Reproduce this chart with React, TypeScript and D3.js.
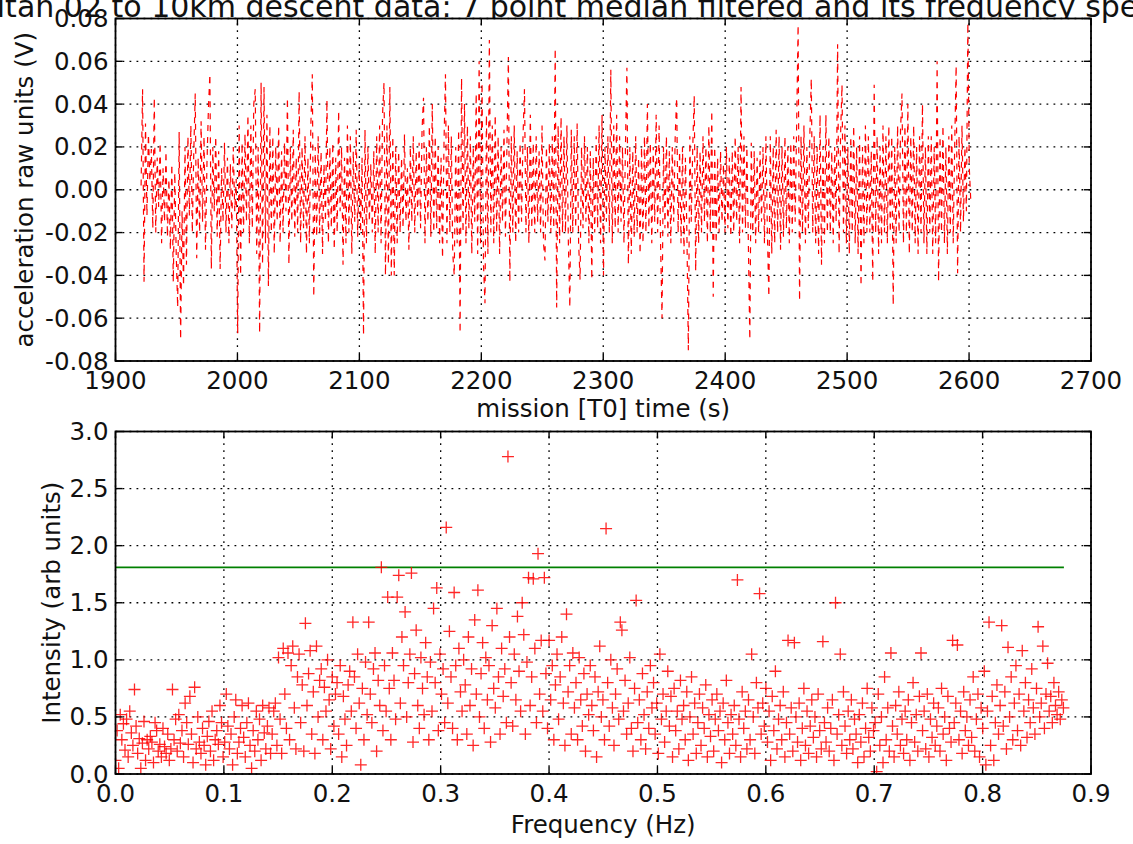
import React from 'react';
import * as d3 from 'd3';

const titleText = 'Titan 02 to 10km descent data: 7 point median filtered and its frequency spectrum';
const topXLabel = 'mission [T0] time (s)';
const topYLabel = 'acceleration raw units (V)';
const bottomXLabel = 'Frequency (Hz)';
const bottomYLabel = 'Intensity (arb units)';

const accelStartTime = 1921;
const accelTimeStep = 1.2;
const accelValues = [
  .002,.047,-.043,.031,-.012,.026,.004,.019,-.018,.043,
  -.02,.015,-.008,.022,-.025,.01,-.015,.018,-.022,.005,
  -.028,.012,-.043,.008,-.03,-.055,.027,-.07,-.01,-.045,
  .02,-.035,.025,-.012,.03,-.02,.018,.045,-.032,.015,
  -.02,.032,-.015,.025,-.028,.012,.038,.054,-.037,.02,
  -.01,.025,-.022,.018,-.037,.01,-.015,.022,-.02,.015,
  -.025,.012,-.018,.02,-.01,.005,-.067,.03,-.04,.022,
  -.02,.026,-.015,.035,-.025,.03,-.018,.04,.047,-.03,
  .02,-.067,.05,-.035,.048,-.025,.035,-.045,.03,-.02,
  .025,-.03,.02,-.015,.03,-.025,.018,-.02,.022,-.01,
  .043,-.035,.02,-.015,.028,-.022,.015,-.02,.046,-.025,
  .02,-.018,.025,-.03,.015,-.025,.03,.054,-.05,.02,
  -.022,.025,-.02,.018,-.03,.012,-.015,.042,-.025,.02,
  -.018,.022,-.028,.015,-.02,.037,-.01,.02,-.035,.015,
  -.025,.03,-.02,.025,-.03,.018,-.015,.028,-.022,.012,
  -.02,.015,-.068,.028,-.025,.02,-.015,.012,-.02,.018,
  -.03,.025,-.02,.03,-.025,.035,.05,-.04,.03,-.035,
  .048,-.04,.025,-.04,.02,-.025,.018,-.02,.015,-.018,
  .026,-.015,.01,-.028,.02,-.015,.025,-.02,.018,-.012,
  .022,-.018,.028,.043,-.025,.02,-.015,.03,-.022,.04,
  -.02,.025,-.018,.02,-.025,.015,-.032,.022,.054,-.025,
  .03,-.02,.025,-.03,-.04,.02,-.025,.028,-.067,.052,
  -.02,.04,-.025,.03,-.018,.025,-.03,.02,-.015,.045,
  -.03,.06,-.025,.05,-.035,-.053,.035,-.03,.07,-.02,
  .03,-.025,.035,-.02,.025,-.03,.02,-.015,.028,-.022,
  .02,.062,-.043,.025,-.02,.03,-.025,.018,-.02,.022,
  -.015,.025,.047,-.02,.02,-.025,.035,-.018,.022,-.02,
  .025,-.015,.018,-.02,.03,-.025,-.033,.02,-.015,.022,
  -.02,.025,-.018,.066,-.055,.03,-.025,.034,-.02,.025,
  -.02,.03,-.025,-.055,.028,-.02,.025,-.018,.031,-.025,
  -.042,.02,-.018,.025,-.015,.02,-.025,.018,-.042,.015,
  -.02,.025,-.018,.03,-.025,.035,-.04,.02,-.015,.025,
  -.02,.056,-.025,.03,-.018,.035,-.02,.025,-.015,.02,
  -.025,.02,.057,-.035,.02,-.03,.018,-.022,.025,-.02,
  .015,-.03,.02,-.025,.025,-.02,.04,-.018,.022,-.025,
  .02,-.015,.035,-.02,.03,-.025,-.06,.02,-.018,.025,
  -.022,.018,-.025,.02,-.015,.025,.043,-.02,.018,-.025,
  .02,-.03,.015,-.02,-.075,.025,-.015,.02,.044,-.038,
  .02,-.025,.018,-.02,.025,-.015,.02,-.025,.03,-.02,
  .037,-.05,.02,-.025,.015,-.02,.018,-.015,.012,-.02,
  .02,-.018,.015,-.022,.018,-.02,.025,-.015,.02,-.025,
  .048,-.02,.025,-.018,.02,-.025,-.07,.022,-.02,.018,
  -.025,.015,-.02,.018,-.015,.02,-.025,.025,-.02,-.05,
  .025,-.03,.02,-.025,.028,-.02,.025,-.028,.02,-.022,
  .025,-.018,.02,-.025,.022,-.02,.025,-.015,.03,.077,
  -.052,.025,-.02,.03,-.025,.02,-.018,.025,.052,-.02,
  .025,-.025,.02,-.03,.035,-.035,.02,-.025,.035,-.02,
  .025,-.02,.018,-.025,.02,-.015,.068,-.03,.025,.049,
  -.02,.03,-.025,.02,-.03,.025,-.02,.03,-.025,.02,
  -.03,.025,-.045,.02,-.025,.03,-.02,.025,-.02,.018,
  -.043,.049,-.02,.025,-.03,.02,-.025,.03,-.02,.025,
  -.025,.03,-.02,.025,-.054,.02,-.025,.03,-.02,.028,
  .045,-.025,.03,-.02,.04,-.03,.025,-.02,.03,-.025,
  .02,-.03,.025,-.02,.04,-.025,.02,-.03,.025,-.02,
  .025,-.03,.02,-.025,.06,-.043,.025,-.02,.03,-.025,
  .02,-.03,.025,-.02,.03,-.025,.02,.058,-.039,.025,
  -.02,.03,-.015,.02,-.01,.078,.01,-.005
];
const timeTicks = [1900, 2000, 2100, 2200, 2300, 2400, 2500, 2600, 2700];
const accelTicks = [-0.08, -0.06, -0.04, -0.02, 0, 0.02, 0.04, 0.06, 0.08];

const freqStep = 0.00146;
const intensityValues = [
  .12,.38,.05,.52,.30,.44,.21,.48,.15,.55,
  .36,.25,.74,.42,.18,.31,.05,.27,.46,.12,
  .30,.22,.33,.28,.10,.45,.38,.20,.26,.15,
  .40,.24,.18,.35,.12,.22,.74,.30,.48,.20,
  .52,.27,.38,.15,.62,.45,.26,.68,.35,.10,
  .76,.22,.50,.28,.18,.40,.25,.08,.33,.46,
  .20,.55,.12,.30,.38,.26,.60,.45,.15,.28,
  .70,.42,.22,.35,.08,.50,.65,.18,.28,.40,
  .60,.32,.15,.45,.62,.25,.05,.38,.20,.55,
  .30,.48,.12,.60,.36,.22,.42,.58,.18,.35,
  .55,.62,.25,1.02,.48,.18,1.10,.70,.40,1.06,
  .30,.95,1.12,.58,.22,.85,1.05,.45,.78,.20,
  1.32,.60,.88,1.08,.35,.72,.18,1.12,.50,.82,
  .92,.30,.76,.55,1.00,.65,.22,.85,.42,.70,
  .80,.35,.95,.15,.68,.48,.25,.78,.90,.55,
  1.33,.85,.40,1.05,.62,.08,.75,.30,.98,.52,
  1.33,.70,.45,.92,1.06,.20,.82,.60,1.81,.38,
  .95,.55,1.55,.75,.30,1.06,.82,.48,1.55,1.74,
  .62,1.20,.95,1.42,.50,.80,1.05,1.76,.28,.88,
  1.26,.60,.40,1.02,.75,.52,1.15,.85,.30,.98,
  .55,1.45,.80,1.63,.38,1.05,.70,.92,.45,2.16,
  .62,1.25,.85,.40,1.59,.95,.30,1.10,.72,.55,
  1.00,.78,.35,1.20,.60,.92,.25,1.35,.70,1.61,
  .50,.88,1.15,.40,1.02,.65,.95,.28,1.30,.75,
  .58,1.45,.85,.35,1.10,.68,.92,.45,2.78,1.20,
  .80,.42,1.05,.65,1.38,.90,.55,1.50,1.22,.35,
  .98,1.72,.60,.85,1.71,1.10,.45,1.93,.70,1.17,
  .55,1.72,.88,.40,1.17,.65,.95,.30,.78,1.05,
  .48,.85,1.20,.62,.25,1.40,.72,.95,.35,1.06,
  .58,.80,.30,1.02,.65,.42,.88,.20,.70,.52,
  .95,.60,.38,.85,.15,.72,1.12,.50,.65,.30,
  2.15,.80,.42,1.00,.58,.25,.70,.92,.48,1.33,
  1.26,.55,.82,.35,.62,1.02,.40,.20,.75,1.52,
  .45,.65,.30,.88,.52,.22,.72,.40,.95,.58,
  .80,.35,.62,.18,1.05,.48,.70,.28,.55,.90,
  .42,.68,.15,.75,.38,.55,.22,.82,.48,.60,
  .30,.72,.12,.50,.85,.35,.62,.18,.45,.70,
  .25,.58,.40,.78,.15,.52,.33,.65,.20,.48,
  .70,.38,.55,.10,.62,.30,.82,.45,.18,.52,
  .35,.60,.25,1.70,.48,.15,.72,.40,.55,.22,
  .65,.30,1.05,.50,.18,.80,.58,1.58,.35,.62,
  .42,.75,.28,.55,.12,.68,.38,.90,.22,.48,
  .60,.30,.72,.15,.45,1.17,.35,.58,.20,1.15,
  .50,.28,.62,.12,.40,.75,.25,.55,.18,.42,
  .65,.32,.50,.15,.70,.38,.22,1.16,.45,.28,
  .58,.20,.40,.65,.12,1.50,.35,.52,1.05,.25,
  .72,.42,.18,.55,.30,.65,.22,.48,.35,.10,
  .52,.28,.62,.15,.40,.75,.32,.20,.58,.38,
  .45,.02,.70,.25,.50,.10,.85,.30,.58,.20,
  1.06,.42,.15,.60,.35,.72,.25,.48,.18,.55,
  .30,.65,.12,.45,.80,.28,.52,.20,.68,1.06,
  .38,.55,.22,.70,.15,.48,.32,.62,.25,.42,
  .58,.20,.75,.35,.50,.12,.68,.40,.28,1.17,
  .45,.62,1.13,.30,.55,.18,.72,.38,.50,.25,
  .65,.32,.85,.20,.48,.70,.15,.58,.40,.90,
  .08,.55,1.33,.25,.68,.12,.45,.78,.35,.60,
  1.30,.42,.72,.22,1.11,.50,.85,.30,.62,.95,
  .38,.70,.25,1.08,.55,.80,.32,.65,.45,.92,
  .58,.35,.75,1.29,.50,.62,1.12,.40,.70,.97,
  .55,.68,.45,.80,.60,.52,.72,.48,.65,.58
];
const freqTicks = [0, 0.1, 0.2, 0.3, 0.4, 0.5, 0.6, 0.7, 0.8, 0.9];
const intensityTicks = [0, 0.5, 1, 1.5, 2, 2.5, 3];
const thresholdIntensity = 1.81;
const thresholdFreqRange = [0, 0.875];

const FONT = '"DejaVu Sans", "Bitstream Vera Sans", sans-serif';
const TICK_FS = 24.5;
const TEXT = '#111';

type Scale = d3.ScaleLinear<number, number>;

function AxesFrame(props: {
  x: Scale; y: Scale; xTicks: number[]; yTicks: number[];
  xFmt: (v: number) => string; yFmt: (v: number) => string;
  children?: React.ReactNode; clipId: string;
}) {
  const { x, y, xTicks, yTicks, xFmt, yFmt, children, clipId } = props;
  const [x0, x1] = x.range();
  const [y0, y1] = y.range();
  const tl = 7;
  return (
    <g>
      <defs>
        <clipPath id={clipId}>
          <rect x={x0} y={y1} width={x1 - x0} height={y0 - y1} />
        </clipPath>
      </defs>
      <rect x={x0} y={y1} width={x1 - x0} height={y0 - y1} fill="#fff" />
      <g stroke="#000" strokeWidth={1.3} strokeDasharray="1.8,5.2">
        {xTicks.map((t) => (
          <line key={'gx' + t} x1={x(t)} x2={x(t)} y1={y0} y2={y1} />
        ))}
        {yTicks.map((t) => (
          <line key={'gy' + t} x1={x0} x2={x1} y1={y(t)} y2={y(t)} />
        ))}
      </g>
      <g clipPath={`url(#${clipId})`}>{children}</g>
      <g stroke="#000" strokeWidth={1.4}>
        {xTicks.map((t) => (
          <g key={'tx' + t}>
            <line x1={x(t)} x2={x(t)} y1={y0} y2={y0 - tl} />
            <line x1={x(t)} x2={x(t)} y1={y1} y2={y1 + tl} />
          </g>
        ))}
        {yTicks.map((t) => (
          <g key={'ty' + t}>
            <line x1={x0} x2={x0 + tl} y1={y(t)} y2={y(t)} />
            <line x1={x1} x2={x1 - tl} y1={y(t)} y2={y(t)} />
          </g>
        ))}
      </g>
      <rect x={x0} y={y1} width={x1 - x0} height={y0 - y1} fill="none" stroke="#000" strokeWidth={1.8} />
      <g fontFamily={FONT} fontSize={TICK_FS} fill={TEXT}>
        {xTicks.map((t) => (
          <text key={'lx' + t} x={x(t)} y={y0 + 28} textAnchor="middle">{xFmt(t)}</text>
        ))}
        {yTicks.map((t) => (
          <text key={'ly' + t} x={x0 - 7} y={y(t)} textAnchor="end" dominantBaseline="central">{yFmt(t)}</text>
        ))}
      </g>
    </g>
  );
}

export default function App() {
  const W = 1133;
  const H = 844;
  const left = 115.5;
  const right = 1091;

  const xTime = d3.scaleLinear().domain([1900, 2700]).range([left, right]);
  const yAccel = d3.scaleLinear().domain([-0.08, 0.08]).range([361, 18.5]);
  const xFreq = d3.scaleLinear().domain([0, 0.9]).range([left, right]);
  const yInt = d3.scaleLinear().domain([0, 3]).range([774, 431.5]);

  const accelPoints: [number, number][] = accelValues.map((v, i) => [accelStartTime + i * accelTimeStep, v]);
  const accelPath = d3.line<[number, number]>().x((d) => xTime(d[0])).y((d) => yAccel(d[1]))(accelPoints) || '';

  const specPoints: [number, number][] = intensityValues.map((v, i) => [i * freqStep, v]);
  const ms = 6;

  const cx = (left + right) / 2;

  return (
    <svg width={W} height={H} style={{ position: 'absolute', left: 0, top: 0, background: '#fff' }}>
      <rect x={0} y={0} width={W} height={H} fill="#fff" />
      <text x={cx} y={17} textAnchor="middle" fontFamily={FONT} fontSize={30} fill={TEXT}>{titleText}</text>

      <AxesFrame x={xTime} y={yAccel} xTicks={timeTicks} yTicks={accelTicks}
        xFmt={(v) => String(v)} yFmt={(v) => v.toFixed(2)} clipId="clipTop">
        <path d={accelPath} fill="none" stroke="#ff0000" strokeWidth={1.2} strokeDasharray="6,6" />
      </AxesFrame>
      <text x={cx} y={417} textAnchor="middle" fontFamily={FONT} fontSize={TICK_FS} fill={TEXT}>{topXLabel}</text>
      <text transform={`translate(33,${yAccel(0)}) rotate(-90)`} textAnchor="middle" fontFamily={FONT} fontSize={TICK_FS} fill={TEXT}>{topYLabel}</text>

      <AxesFrame x={xFreq} y={yInt} xTicks={freqTicks} yTicks={intensityTicks}
        xFmt={(v) => v.toFixed(1)} yFmt={(v) => v.toFixed(1)} clipId="clipBottom">
        <line x1={xFreq(thresholdFreqRange[0])} x2={xFreq(thresholdFreqRange[1])}
          y1={yInt(thresholdIntensity)} y2={yInt(thresholdIntensity)} stroke="#008000" strokeWidth={1.6} />
        <g stroke="#ff0000" strokeWidth={1.3} strokeOpacity={0.85}>
          {specPoints.map((d, i) => {
            const px = xFreq(d[0]);
            const py = yInt(d[1]);
            return (
              <path key={i} d={`M${px - ms},${py}H${px + ms}M${px},${py - ms}V${py + ms}`} />
            );
          })}
        </g>
      </AxesFrame>
      <text x={cx} y={833} textAnchor="middle" fontFamily={FONT} fontSize={TICK_FS} fill={TEXT}>{bottomXLabel}</text>
      <text transform={`translate(60,${yInt(1.5)}) rotate(-90)`} textAnchor="middle" fontFamily={FONT} fontSize={TICK_FS} fill={TEXT}>{bottomYLabel}</text>
    </svg>
  );
}
